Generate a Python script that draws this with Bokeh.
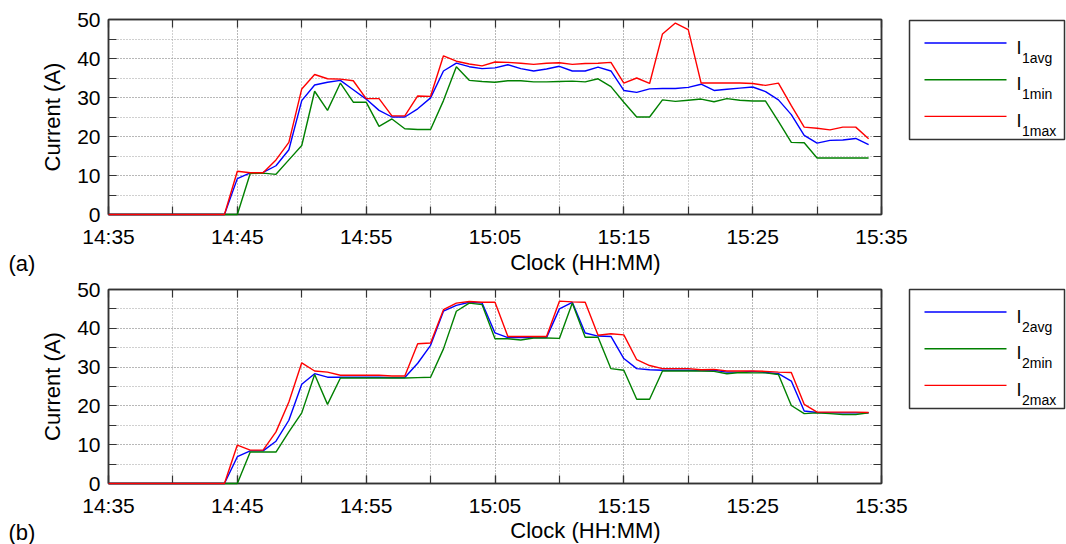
from bokeh.plotting import figure
from bokeh.models import FixedTicker, LinearAxis, ColumnDataSource
from bokeh.layouts import row, column
from bokeh.core.properties import value
from bokeh.embed import file_html
from bokeh.resources import INLINE

# ---------------- data ----------------
minutes = list(range(60))  # 14:35 ... 15:34, one sample per minute
x_tick_positions = [0, 10, 20, 30, 40, 50, 60]
x_tick_labels = ["14:35", "14:45", "14:55", "15:05", "15:15", "15:25", "15:35"]
y_tick_positions = [0, 10, 20, 30, 40, 50]
x_title = "Clock (HH:MM)"
y_title = "Current (A)"
panel_tags = ["(a)", "(b)"]

i1_avg = [0]*10 + [9.2, 10.7, 10.8, 12.5, 16.6, 29.2, 33.2, 33.9, 34.4, 32.0,
                   29.6, 26.7, 25.0, 25.0, 27.1, 29.9, 36.8, 38.8, 37.9, 37.4,
                   37.6, 38.4, 37.4, 36.8, 37.3, 38.0, 36.8, 36.8, 37.8, 36.8,
                   31.8, 31.3, 32.2, 32.3, 32.3, 32.6, 33.4, 31.8, 32.1, 32.4,
                   32.7, 31.5, 29.4, 25.6, 20.3, 18.3, 19.0, 19.1, 19.5, 17.9]
i1_min = [0]*11 + [10.5, 10.6, 10.3, 14.0, 17.7, 31.6, 26.7, 33.7, 28.8,
                   28.8, 22.6, 24.5, 22.0, 21.8, 21.8, 29.2, 37.9, 34.4, 34.1,
                   33.9, 34.3, 34.3, 34.0, 34.0, 34.1, 34.2, 34.0, 34.8, 32.8,
                   28.8, 25.0, 25.0, 29.4, 29.0, 29.3, 29.6, 28.9, 29.7, 29.3,
                   29.1, 29.1, 23.9, 18.5, 18.4, 14.5, 14.5, 14.5, 14.5, 14.5]
i1_max = [0]*10 + [11.1, 10.7, 10.7, 14.0, 18.5, 32.2, 35.9, 34.8, 34.7, 34.3,
                   29.7, 29.7, 25.3, 25.3, 30.4, 30.3, 40.7, 39.3, 38.6, 38.1,
                   39.1, 39.0, 38.8, 38.5, 38.8, 38.9, 38.5, 38.7, 38.8, 39.0,
                   33.7, 35.0, 33.6, 46.3, 49.1, 47.4, 33.7, 33.7, 33.7, 33.7,
                   33.6, 33.1, 33.7, 27.9, 22.4, 22.1, 21.7, 22.4, 22.4, 19.4]

i2_avg = [0]*10 + [6.9, 8.4, 8.4, 10.9, 16.3, 25.6, 28.3, 27.4, 27.4, 27.4,
                   27.4, 27.4, 27.3, 27.3, 31.0, 35.6, 44.4, 45.9, 46.7, 46.5,
                   38.8, 37.6, 37.6, 37.6, 37.6, 45.0, 46.7, 38.8, 38.0, 37.9,
                   32.2, 29.6, 29.3, 29.2, 29.2, 29.2, 29.1, 29.2, 28.7, 28.7,
                   28.9, 28.6, 28.3, 26.4, 18.7, 18.3, 18.2, 18.2, 18.2, 18.2]
i2_min = [0]*11 + [8.1, 8.1, 8.1, 13.3, 18.2, 28.1, 20.4, 27.2, 27.2,
                   27.2, 27.2, 27.2, 27.2, 27.3, 27.4, 34.7, 44.4, 46.5, 46.1,
                   37.3, 37.3, 37.0, 37.5, 37.5, 37.4, 46.5, 37.7, 37.7, 29.6,
                   29.2, 21.7, 21.7, 29.0, 29.0, 29.0, 29.0, 28.9, 28.3, 28.6,
                   28.5, 28.5, 28.1, 20.1, 18.0, 18.2, 18.0, 17.8, 17.8, 18.2]
i2_max = [0]*10 + [9.9, 8.6, 8.6, 13.3, 21.0, 31.1, 29.0, 28.7, 27.9, 27.9,
                   27.9, 27.9, 27.7, 27.7, 36.0, 36.2, 44.8, 46.5, 46.9, 46.7,
                   46.7, 37.9, 37.9, 37.9, 37.9, 47.0, 46.8, 46.7, 38.2, 38.6,
                   38.3, 31.9, 30.4, 29.6, 29.6, 29.6, 29.3, 29.4, 29.0, 29.0,
                   29.0, 28.9, 28.7, 28.6, 20.4, 18.4, 18.4, 18.4, 18.4, 18.3]

series_colors = ["#0000ff", "#008000", "#ff0000"]
legend1_subs = ["1avg", "1min", "1max"]
legend2_subs = ["2avg", "2min", "2max"]

FONT = "Liberation Sans"
AX = "#333333"


def style_axis(ax, labels=True):
    ax.major_tick_in = 8
    ax.major_tick_out = 0
    ax.minor_tick_in = 8
    ax.minor_tick_out = 0
    ax.axis_line_color = AX
    ax.axis_line_width = 1.5
    ax.major_tick_line_color = AX
    ax.minor_tick_line_color = AX
    ax.major_tick_line_width = 1.2
    ax.minor_tick_line_width = 1.2
    if labels:
        ax.major_label_text_font = FONT
        ax.major_label_text_font_size = "21px"
        ax.major_label_text_color = "black"
        ax.axis_label_text_font = FONT
        ax.axis_label_text_font_size = "22px"
        ax.axis_label_text_font_style = "normal"
        ax.axis_label_text_color = "black"
    else:
        ax.major_label_standoff = 0


def make_panel(avg, mn, mx, top_border, frame_h, bottom_border):
    xt = FixedTicker(ticks=x_tick_positions, minor_ticks=list(range(0, 61, 5)))
    yt = FixedTicker(ticks=y_tick_positions, minor_ticks=list(range(0, 51, 5)))
    p = figure(frame_width=773, frame_height=frame_h,
               min_border_left=108, min_border_right=27,
               min_border_top=top_border, min_border_bottom=bottom_border,
               x_range=(0, 60), y_range=(0, 50),
               output_backend="svg", toolbar_location=None,
               background_fill_color="white", border_fill_color="white")
    p.outline_line_color = AX
    p.outline_line_width = 1.5

    src = ColumnDataSource(dict(t=minutes, avg=avg, mn=mn, mx=mx))
    for col, c in zip(["avg", "mn", "mx"], series_colors):
        r = p.line("t", col, source=src, line_color=c, line_width=1.4)
        r.level = "overlay"

    p.xaxis.ticker = xt
    p.yaxis.ticker = yt
    p.xaxis.major_label_overrides = {pos: lab for pos, lab in zip(x_tick_positions, x_tick_labels)}
    p.yaxis.axis_label = y_title
    style_axis(p.xaxis[0])
    style_axis(p.yaxis[0])
    p.xaxis.major_label_standoff = 10
    p.yaxis.major_label_standoff = 8
    p.yaxis.axis_label_standoff = 9

    # mirrored tick marks on top / right (no labels)
    top = LinearAxis(ticker=FixedTicker(ticks=[], minor_ticks=list(range(0, 61, 5))))
    style_axis(top, labels=False)
    p.add_layout(top, "above")
    right = LinearAxis(ticker=FixedTicker(ticks=[], minor_ticks=list(range(0, 51, 5))))
    style_axis(right, labels=False)
    p.add_layout(right, "right")

    for g in (p.xgrid, p.ygrid):
        g.grid_line_color = "#a0a0a0"
        g.grid_line_dash = "1 2"
        g.grid_line_width = 1
        g.minor_grid_line_color = "#a0a0a0"
        g.minor_grid_line_dash = "1 2"
        g.minor_grid_line_width = 1
    return p


def make_strip(tag, height, tag_y, title_y):
    # strip under a panel holding the x-axis title and the panel tag
    s = figure(frame_width=908, frame_height=height,
               min_border_left=0, min_border_right=0,
               min_border_top=0, min_border_bottom=0,
               x_range=(0, 908), y_range=(0, height),
               x_axis_location=None, y_axis_location=None,
               output_backend="svg", toolbar_location=None,
               background_fill_color="white", border_fill_color="white")
    s.frame_align = False
    s.grid.visible = False
    s.outline_line_color = None
    s.text([8], [tag_y], text=[tag], text_font=value(FONT), text_font_size="22px",
           text_color="black", text_baseline="middle", text_align="left")
    s.text([585], [title_y], text=[x_title], text_font=value(FONT), text_font_size="22px",
           text_color="black", text_baseline="middle", text_align="center")
    return s


def make_legend(subs, top_border, frame_h, bottom_border):
    lg = figure(frame_width=155, frame_height=frame_h,
                min_border_left=1, min_border_right=2,
                min_border_top=top_border, min_border_bottom=bottom_border,
                x_range=(0, 155), y_range=(0, frame_h),
                x_axis_location=None, y_axis_location=None,
                output_backend="svg", toolbar_location=None,
                background_fill_color="white", border_fill_color="white")
    lg.grid.visible = False
    lg.outline_line_color = AX
    lg.outline_line_width = 1.5
    line_ys = [frame_h - 22.5, frame_h - 59.2, frame_h - 95.9]
    for yy, c, s in zip(line_ys, series_colors, subs):
        lg.line([15, 97], [yy, yy], line_color=c, line_width=1.4)
        lg.text([107], [yy - 4.5], text=["I"], text_font=value(FONT),
                text_font_size="18px", text_color="black",
                text_baseline="alphabetic", text_align="left")
        lg.text([112.5], [yy - 14.5], text=[s], text_font=value(FONT),
                text_font_size="14px", text_color="black",
                text_baseline="alphabetic", text_align="left")
    return lg


p1 = make_panel(i1_avg, i1_min, i1_max, 19, 195, 36)   # 0 .. 250
s1 = make_strip(panel_tags[0], 28, 15.5, 16)             # 250 .. 278
p2 = make_panel(i2_avg, i2_min, i2_max, 11, 194, 36)   # 278 .. 519
s2 = make_strip(panel_tags[1], 25, 12, 14)               # 519 .. 544
l1 = make_legend(legend1_subs, 20, 119, 139)             # 0 .. 278
l2 = make_legend(legend2_subs, 11, 119, 136)             # 278 .. 544

layout = row(column(p1, s1, p2, s2), column(l1, l2))
open("out.html", "w").write(file_html(layout, INLINE))
